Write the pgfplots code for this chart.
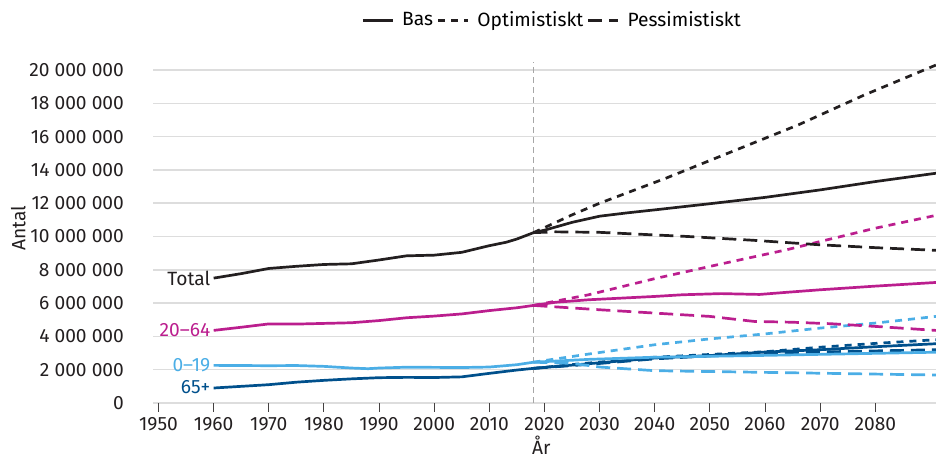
\documentclass[border=0pt]{standalone}
\usepackage{fontspec}
\setmainfont{Fira Sans}
\usepackage{pgfplots}
\pgfplotsset{compat=1.18}

\definecolor{cTot}{HTML}{231F20}
\definecolor{cMid}{HTML}{BB1E8E}
\definecolor{cYng}{HTML}{4BAEE6}
\definecolor{cOld}{HTML}{00508C}
\definecolor{cGrid}{HTML}{DDDDDD}

\pgfplotsset{
  bas/.style={line width=1.35pt},
  opt/.style={line width=1.35pt, dash pattern=on 3.5pt off 3pt},
  pes/.style={line width=1.35pt, dash pattern=on 7pt off 3.5pt},
}

\begin{document}
\begin{tikzpicture}[font=\fontsize{9.6}{11}\selectfont]
\begin{axis}[
  at={(76.5pt,28pt)}, anchor=south west,
  scale only axis, width=391.5pt, height=170.65pt,
  xmin=1949, xmax=2091, ymin=0, ymax=20.5,
  axis x line*=bottom, axis y line*=left,
  axis line style={draw=none},
  xtick={1950,1960,...,2080},
  ytick={0,2,...,20},
  yticklabels={0,2 000 000,4 000 000,6 000 000,8 000 000,10 000 000,12 000 000,14 000 000,16 000 000,18 000 000,20 000 000},
  /pgf/number format/assume math mode=true,
  /pgf/number format/1000 sep={},
  tick align=outside,
  major tick length=4.5pt,
  xtick style={draw=cTot!85, line width=0.5pt},
  ytick style={draw=none},
  yticklabel style={anchor=east, xshift=-6.5pt, text=cTot},
  xticklabel style={text=cTot, yshift=1pt},
  ymajorgrids,
  grid style={cGrid, line width=0.75pt},
  xlabel={År}, ylabel={Antal},
  xlabel style={at={(axis description cs:0.496,-0.125)}, anchor=center, text=cTot},
  ylabel style={at={(axis description cs:-0.172,0.513)}, anchor=center, text=cTot},
  no markers,
  every axis plot/.append style={line join=round},
  clip mode=individual,
  legend columns=3,
  legend style={at={(axis description cs:0.511,1.12)}, anchor=center, draw=none,
    fill=none, font=\fontsize{9.6}{11}\selectfont,
    /tikz/every odd column/.append style={column sep=2pt},
    /tikz/every even column/.append style={column sep=-0.2pt}},
  legend image code/.code={\draw[#1] (0pt,0pt) -- (15pt,0pt);},
]
\addlegendimage{bas, cTot}\addlegendentry{Bas}
\addlegendimage{opt, cTot}\addlegendentry{Optimistiskt}
\addlegendimage{pes, cTot}\addlegendentry{Pessimistiskt}

% vertical line at the start of the projection
\addplot[gray!70, line width=0.5pt, dash pattern=on 3pt off 2pt, forget plot]
  coordinates {(2018,0) (2018,20.5)};

% ---- 65+ ----
\addplot[bas, cOld, forget plot] coordinates {
(1960,0.90) (1965,1.00) (1970,1.10) (1975,1.25) (1980,1.36) (1985,1.45)
(1990,1.52) (1995,1.54) (2000,1.53) (2005,1.57) (2010,1.78) (2015,1.98) (2018,2.08)
(2028,2.36) (2040,2.70) (2050,2.85) (2060,3.06) (2070,3.20) (2080,3.38) (2091,3.56)};
\addplot[opt, cOld, forget plot] coordinates {
(2018,2.08) (2028,2.40) (2040,2.75) (2060,3.08) (2070,3.35) (2080,3.58) (2091,3.80)};
\addplot[pes, cOld, forget plot] coordinates {
(2018,2.08) (2028,2.32) (2040,2.65) (2060,3.00) (2091,3.20)};

% ---- 0-19 ----
\addplot[bas, cYng, forget plot] coordinates {
(1960,2.26) (1965,2.25) (1970,2.24) (1975,2.25) (1980,2.20) (1985,2.10) (1988,2.06)
(1990,2.10) (1995,2.15) (2000,2.14) (2005,2.13) (2010,2.16) (2015,2.30) (2018,2.45)
(2028,2.62) (2040,2.75) (2060,2.86) (2091,3.05)};
\addplot[opt, cYng, forget plot] coordinates {
(2018,2.45) (2028,2.94) (2040,3.50) (2050,3.85) (2060,4.15) (2070,4.50) (2080,4.80) (2091,5.20)};
\addplot[pes, cYng, forget plot] coordinates {
(2018,2.45) (2025,2.38) (2030,2.16) (2040,1.94) (2060,1.84) (2091,1.68)};

% ---- 20-64 ----
\addplot[bas, cMid, forget plot] coordinates {
(1960,4.36) (1965,4.55) (1970,4.75) (1975,4.74) (1980,4.78) (1985,4.82) (1990,4.95)
(1995,5.12) (2000,5.22) (2005,5.35) (2010,5.55) (2015,5.72) (2018,5.86)
(2022,6.05) (2028,6.20) (2040,6.40) (2045,6.50) (2052,6.57) (2059,6.52) (2064,6.65)
(2070,6.80) (2080,7.02) (2091,7.24)};
\addplot[opt, cMid, forget plot] coordinates {
(2018,5.86) (2028,6.50) (2040,7.47) (2052,8.35) (2064,9.21) (2070,9.70) (2080,10.50) (2091,11.27)};
\addplot[pes, cMid, forget plot] coordinates {
(2018,5.86) (2030,5.60) (2040,5.40) (2050,5.20) (2058,4.90) (2065,4.85) (2072,4.76) (2080,4.60) (2091,4.36)};

% ---- Total ----
\addplot[bas, cTot, forget plot] coordinates {
(1960,7.50) (1965,7.77) (1970,8.08) (1975,8.21) (1980,8.32) (1985,8.36) (1990,8.59)
(1995,8.84) (2000,8.88) (2005,9.05) (2010,9.45) (2013,9.65) (2015,9.85) (2018,10.23)
(2020,10.38) (2025,10.85) (2030,11.22) (2035,11.42) (2040,11.60) (2050,11.97)
(2060,12.35) (2070,12.80) (2080,13.30) (2091,13.80)};
\addplot[opt, cTot, forget plot] coordinates {
(2018,10.23) (2025,11.30) (2030,12.00) (2042,13.50) (2054,15.10) (2066,16.70) (2078,18.50) (2091,20.30)};
\addplot[pes, cTot, forget plot] coordinates {
(2018,10.23) (2022,10.28) (2030,10.25) (2046,10.00) (2058,9.77) (2070,9.50) (2080,9.33) (2091,9.17)};

% series labels
\node[anchor=east, inner sep=1.5pt, text=cTot] at (axis cs:1960,7.50) {Total};
\node[anchor=east, inner sep=1.5pt, text=cMid] at (axis cs:1960,4.36) {20–64};
\node[anchor=east, inner sep=1.5pt, text=cYng] at (axis cs:1960,2.26) {0–19};
\node[anchor=east, inner sep=1.5pt, text=cOld] at (axis cs:1960,0.96) {65+};
\end{axis}
\pgfresetboundingbox
\path[use as bounding box] (0,0) rectangle (468pt,229.5pt);
\end{tikzpicture}
\end{document}
